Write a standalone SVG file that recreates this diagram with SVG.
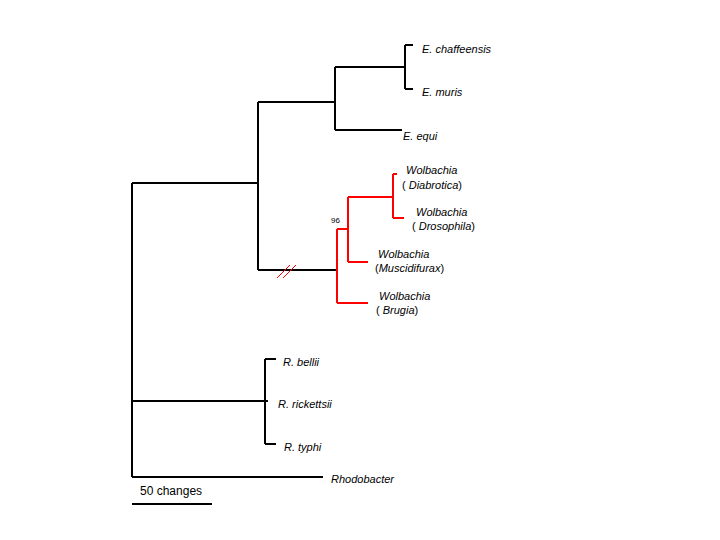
<svg xmlns="http://www.w3.org/2000/svg" width="720" height="540" viewBox="0 0 720 540">
<style>
.b{stroke:#000;stroke-width:2;fill:none}
.r{stroke:#f00;stroke-width:2;fill:none}
.s{stroke:#f00;stroke-width:1;fill:none}
text{font-family:"Liberation Sans",Arial,sans-serif;font-size:11px;fill:#000}
.i{font-style:italic}
.n{font-style:normal}
.sc{font-size:12px}
.bs{font-size:8px}
</style>
<rect width="720" height="540" fill="#fff"/>
<g id="connectors">
<path class="b" d="M132,183V477M132,183H258M258,102V270M258,102H335M335,67V130M335,67H405M405,45V89M405,45H413M405,89H413M335,130H402M258,270H337M132,401H268M265,359V444M265,359H276M265,444H276M132,477H323"/>
<path class="r" d="M337,229V303M337,303H368M337,229H348M348,197V262M348,262H368M348,197H393M393,174V218M393,174H397M393,218H404"/>
<path class="s" d="M277,278L290,265M283,278L296,265"/>
</g>
<g id="scale"><path class="b" d="M132,504H212"/><text class="sc" x="140" y="495">50 changes</text></g>
<g id="n-chaffeensis"><text class="i" x="422" y="53">E. chaffeensis</text></g>
<g id="n-muris"><text class="i" x="422" y="96">E. muris</text></g>
<g id="n-equi"><text class="i" x="403" y="140">E. equi</text></g>
<g id="n-diabrotica"><text class="i" x="406" y="174">Wolbachia</text><text x="402" y="189">(<tspan class="i"> Diabrotica</tspan>)</text></g>
<g id="n-drosophila"><text class="i" x="416" y="216">Wolbachia</text><text x="412" y="230">(<tspan class="i"> Drosophila</tspan>)</text></g>
<g id="n-muscidifurax"><text class="i" x="378" y="258">Wolbachia</text><text x="375" y="272">(<tspan class="i">Muscidifurax</tspan>)</text></g>
<g id="n-brugia"><text class="i" x="379" y="300">Wolbachia</text><text x="376" y="314">(<tspan class="i"> Brugia</tspan>)</text></g>
<g id="bootstrap"><text class="bs" x="331" y="223">96</text></g>
<g id="n-bellii"><text class="i" x="283" y="366">R. bellii</text></g>
<g id="n-rickettsii"><text class="i" x="278" y="408">R. rickettsii</text></g>
<g id="n-typhi"><text class="i" x="284" y="451">R. typhi</text></g>
<g id="n-rhodobacter"><text class="i" x="331" y="483">Rhodobacter</text></g>
</svg>
